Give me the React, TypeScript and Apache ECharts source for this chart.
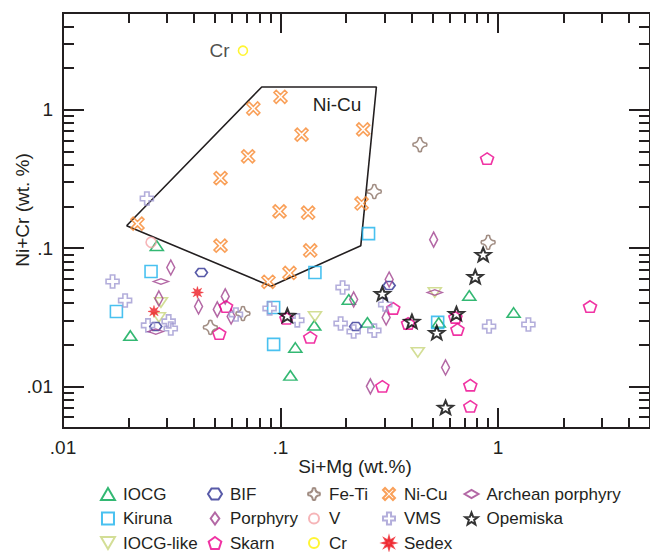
import React, { useEffect, useRef } from "react";
import * as echarts from "echarts";

// ---------- data (wt.%) ----------
const IOCG_X = [0.027, 0.0204, 0.206, 0.117, 0.111, 0.143, 0.251, 0.534, 0.738, 1.18];
const IOCG_Y = [0.104, 0.0233, 0.0425, 0.0191, 0.012, 0.0276, 0.029, 0.029, 0.0454, 0.0342];

const KIRUNA_X = [0.0254, 0.0176, 0.093, 0.144, 0.093, 0.254, 0.528];
const KIRUNA_Y = [0.0676, 0.0348, 0.0372, 0.0666, 0.0201, 0.127, 0.029];

const IOCGLIKE_X = [0.0282, 0.0276, 0.144, 0.512, 0.428];
const IOCGLIKE_Y = [0.0404, 0.0315, 0.032, 0.0477, 0.0176];

const BIF_X = [0.0433, 0.0267, 0.316, 0.2216];
const BIF_Y = [0.0665, 0.0271, 0.0536, 0.0271];

const PORPHYRY_X = [0.0313, 0.0276, 0.042, 0.0557, 0.0512, 0.0593, 0.506, 0.316, 0.217, 0.306, 0.574, 0.259];
const PORPHYRY_Y = [0.0723, 0.0432, 0.0378, 0.0447, 0.036, 0.032, 0.115, 0.0592, 0.0425, 0.0315, 0.0137, 0.01];

const SKARN_X = [0.0562, 0.0523, 0.1065, 0.137, 0.33, 0.386, 0.637, 0.651, 0.294, 0.746, 0.746, 0.891, 2.65];
const SKARN_Y = [0.0378, 0.0241, 0.031, 0.0226, 0.0366, 0.0285, 0.0315, 0.0258, 0.01, 0.0102, 0.00717, 0.443, 0.0378];

const FETI_X = [0.4375, 0.27, 0.901, 0.0476, 0.0672];
const FETI_Y = [0.559, 0.256, 0.11, 0.0267, 0.0336];

const V_X = [0.0254];
const V_Y = [0.11];

const CR_X = [0.0672];
const CR_Y = [2.67];

const NICU_X = [0.1, 0.075, 0.24, 0.125, 0.071, 0.053, 0.236, 0.099, 0.134, 0.022, 0.053, 0.137, 0.11, 0.088];
const NICU_Y = [1.24, 1.02, 0.72, 0.66, 0.46, 0.32, 0.21, 0.184, 0.18, 0.15, 0.104, 0.096, 0.066, 0.057];

const VMS_X = [0.0243, 0.0169, 0.0193, 0.0246, 0.0306, 0.0313, 0.0624, 0.0891, 0.1195, 0.193, 0.189, 0.217, 0.27, 0.303, 0.91, 1.38];
const VMS_Y = [0.228, 0.0573, 0.0418, 0.0276, 0.0295, 0.0262, 0.0331, 0.0366, 0.03, 0.0519, 0.0285, 0.0249, 0.0253, 0.0391, 0.0271, 0.028];

const SEDEX_X = [0.0262, 0.0415];
const SEDEX_Y = [0.0348, 0.0477];

const ARCHEAN_X = [0.0282, 0.0267, 0.512];
const ARCHEAN_Y = [0.0573, 0.0249, 0.0477];

const OPEMISKA_X = [0.1075, 0.294, 0.402, 0.523, 0.644, 0.786, 0.855, 0.574];
const OPEMISKA_Y = [0.0326, 0.0469, 0.0295, 0.0245, 0.0336, 0.0622, 0.0898, 0.00705];

// Ni-Cu field outline
const FIELD_X = [0.0196, 0.082, 0.276, 0.234, 0.0904, 0.0196];
const FIELD_Y = [0.145, 1.46, 1.46, 0.104, 0.053, 0.145];

// axes
const X_RANGE = [0.01, 5];
const Y_RANGE = [0.005, 5];
const X_MAJOR = [0.01, 0.1, 1];
const Y_MAJOR = [0.01, 0.1, 1];
const TICK_LABELS: Record<string, string> = { "-2": ".01", "-1": ".1", "0": "1" };
const X_TITLE = "Si+Mg (wt.%)";
const Y_TITLE = "Ni+Cr (wt. %)";

// ---------- styling ----------
const INK = "#231f20";
const FONT = "'Liberation Sans', Arial, Helvetica, sans-serif";

const SYM = {
  triUp: "path://M50,0 L100,86 L0,86 Z",
  triDown: "path://M0,0 L100,0 L50,86 Z",
  square: "path://M0,0 L100,0 L100,100 L0,100 Z",
  hex: "path://M25,0 L75,0 L100,40 L75,80 L25,80 L0,40 Z",
  diamTall: "path://M36,0 L72,50 L36,100 L0,50 Z",
  diamWide: "path://M0,30 L50,0 L100,30 L50,60 Z",
  pent: "path://M50,0 L100,36 L81,95 L19,95 L0,36 Z",
  plus: "path://M33,0 L67,0 L67,33 L100,33 L100,67 L67,67 L67,100 L33,100 L33,67 L0,67 L0,33 L33,33 Z",
  cross: "path://M0,17 L17,0 L50,33 L83,0 L100,17 L67,50 L100,83 L83,100 L50,67 L17,100 L0,83 L33,50 Z",
  feti: "path://M40,3 Q50,-3 60,3 Q62,38 97,40 Q103,50 97,60 Q62,62 60,97 Q50,103 40,97 Q38,62 3,60 Q-3,50 3,40 Q38,38 40,3 Z",
  star: "path://M50,0 L62.3,33 L97.6,34.5 L70,56.5 L79.4,90.5 L50,71 L20.6,90.5 L30,56.5 L2.4,34.5 L37.7,33 Z",
  aster: "path://M50,0 L58.4,29.7 L85.4,14.6 L70.3,41.6 L100,50 L70.3,58.4 L85.4,85.4 L58.4,70.3 L50,100 L41.6,70.3 L14.6,85.4 L29.7,58.4 L0,50 L29.7,41.6 L14.6,14.6 L41.6,29.7 Z",
  smallCircle: "path://M0,0 M120,120 M110,60 A50,50 0 1 1 10,60 A50,50 0 1 1 110,60 Z",
};

const lg = (v: number) => Math.log10(v);
const pts = (xs: number[], ys: number[]) => xs.map((x, i) => [lg(x), lg(ys[i])]);

const minorTicks = (lo: number, hi: number) => {
  const out: number[] = [];
  for (let e = -3; e <= 1; e++) {
    for (let m = 1; m <= 9; m++) {
      const v = m * Math.pow(10, e);
      if (v >= lo * 0.999 && v <= hi * 1.001) out.push(lg(v));
    }
  }
  return out;
};

function scatter(name: string, xs: number[], ys: number[], symbol: string, size: any, color: string, opts: any = {}) {
  return {
    type: "scatter",
    name,
    data: pts(xs, ys),
    symbol,
    symbolSize: size,
    symbolKeepAspect: true,
    itemStyle: { color: "transparent", borderColor: color, borderWidth: 1.6 },
    emphasis: { disabled: true },
    ...opts,
  };
}

function App() {
  const ref = useRef<HTMLDivElement>(null);
  useEffect(() => {
    document.body.style.margin = "0";
    document.body.style.overflow = "hidden";
    if (!ref.current) return;
    const chart = echarts.init(ref.current, undefined, { renderer: "svg" });

    const xr = [lg(X_RANGE[0]), lg(X_RANGE[1])];
    const yr = [lg(Y_RANGE[0]), lg(Y_RANGE[1])];
    const xMinor = minorTicks(X_RANGE[0], X_RANGE[1]);
    const yMinor = minorTicks(Y_RANGE[0], Y_RANGE[1]);
    const xMajor = X_MAJOR.map(lg);
    const yMajor = Y_MAJOR.map(lg);
    const fmt = (v: number) => TICK_LABELS[String(Math.round(v))] ?? "";

    const axis = (dim: "x" | "y", position: string, major: boolean, label: boolean) => ({
      type: "value",
      position,
      min: dim === "x" ? xr[0] : yr[0],
      max: dim === "x" ? xr[1] : yr[1],
      axisLine: { show: true, onZero: false, lineStyle: { color: INK, width: 2 } },
      axisTick: {
        show: true,
        inside: true,
        length: dim === "x" ? (major ? 20 : 10) : major ? 21 : 11,
        lineStyle: { color: INK, width: 2 },
        customValues: major ? (dim === "x" ? xMajor : yMajor) : dim === "x" ? xMinor : yMinor,
      },
      axisLabel: label
        ? {
            show: true,
            customValues: dim === "x" ? xMajor : yMajor,
            formatter: fmt,
            fontSize: 19,
            color: INK,
            fontFamily: FONT,
            margin: 10,
          }
        : { show: false },
      splitLine: { show: false },
      minorTick: { show: false },
    });

    const legendBase = {
      orient: "vertical",
      top: 485.5,
      itemWidth: 14,
      itemHeight: 12,
      itemGap: 7.5,
      padding: 0,
      selectedMode: false,
      symbolKeepAspect: true,
      textStyle: { fontSize: 17, color: INK, fontFamily: FONT, padding: [0, 0, 0, 3] },
    };

    chart.setOption({
      animation: false,
      backgroundColor: "#ffffff",
      grid: { left: 63, top: 13, right: -6, bottom: 124, containLabel: false },
      xAxis: [axis("x", "bottom", true, true), axis("x", "bottom", false, false), axis("x", "top", true, false), axis("x", "top", false, false)],
      yAxis: [axis("y", "left", true, true), axis("y", "left", false, false), axis("y", "right", true, false), axis("y", "right", false, false)],
      legend: [
        { ...legendBase, left: 100, data: ["IOCG", "Kiruna", "IOCG-like"] },
        { ...legendBase, left: 207, data: ["BIF", "Porphyry", "Skarn"] },
        {
          ...legendBase,
          left: 307,
          data: ["Fe-Ti", { name: "V", icon: SYM.smallCircle }, { name: "Cr", icon: SYM.smallCircle }],
        },
        { ...legendBase, left: 382, data: ["Ni-Cu", "VMS", "Sedex"] },
        { ...legendBase, left: 463.5, data: ["Archean porphyry", "Opemiska"] },
      ],
      graphic: [
        {
          type: "text",
          x: 22,
          y: 210,
          rotation: Math.PI / 2,
          style: { text: Y_TITLE, fill: INK, font: `19px ${FONT}`, align: "center", verticalAlign: "middle" },
        },
        {
          type: "text",
          x: 355,
          y: 466,
          style: { text: X_TITLE, fill: INK, font: `19px ${FONT}`, align: "center", verticalAlign: "middle" },
        },
        {
          type: "text",
          x: 337,
          y: 104,
          style: { text: "Ni-Cu", fill: INK, font: `19px ${FONT}`, align: "center", verticalAlign: "middle" },
        },
      ],
      series: [
        {
          type: "line",
          name: "Ni-Cu field",
          data: pts(FIELD_X, FIELD_Y),
          showSymbol: false,
          symbol: "none",
          silent: true,
          lineStyle: { color: INK, width: 1.6 },
          z: 1,
        },
        scatter("IOCG", IOCG_X, IOCG_Y, SYM.triUp, [13, 11], "#00a650"),
        scatter("Kiruna", KIRUNA_X, KIRUNA_Y, SYM.square, [12, 12], "#1cb1ec"),
        scatter("IOCG-like", IOCGLIKE_X, IOCGLIKE_Y, SYM.triDown, [13, 11], "#c8d67c"),
        scatter("BIF", BIF_X, BIF_Y, SYM.hex, [12, 10], "#2e3192"),
        scatter("Porphyry", PORPHYRY_X, PORPHYRY_Y, SYM.diamTall, [11, 15], "#a0428f"),
        scatter("Skarn", SKARN_X, SKARN_Y, SYM.pent, [13, 12], "#ec008c"),
        scatter("Fe-Ti", FETI_X, FETI_Y, SYM.feti, [14, 14], "#8a7064"),
        scatter("V", V_X, V_Y, "circle", 10, "#f4a3a6"),
        scatter("Cr", CR_X, CR_Y, "circle", 9, "#fff200", {
          label: {
            show: true,
            position: "left",
            distance: 8,
            formatter: "Cr",
            color: INK,
            fontSize: 19,
            fontFamily: FONT,
          },
        }),
        scatter("Ni-Cu", NICU_X, NICU_Y, SYM.cross, [13, 13], "#f7882f"),
        scatter("VMS", VMS_X, VMS_Y, SYM.plus, [13, 13], "#a09ad2"),
        scatter("Sedex", SEDEX_X, SEDEX_Y, SYM.aster, [12, 12], "#ed1c24", {
          itemStyle: { color: "#ed1c24", borderColor: "#ed1c24", borderWidth: 0.5 },
        }),
        scatter("Archean porphyry", ARCHEAN_X, ARCHEAN_Y, SYM.diamWide, [15, 9], "#a0428f"),
        scatter("Opemiska", OPEMISKA_X, OPEMISKA_Y, SYM.star, [15, 14], "#000000", {
          itemStyle: { color: "transparent", borderColor: "#000000", borderWidth: 2 },
        }),
      ],
    });
    return () => chart.dispose();
  }, []);
  return <div ref={ref} style={{ width: 650, height: 552 }} />;
}

export default App;
